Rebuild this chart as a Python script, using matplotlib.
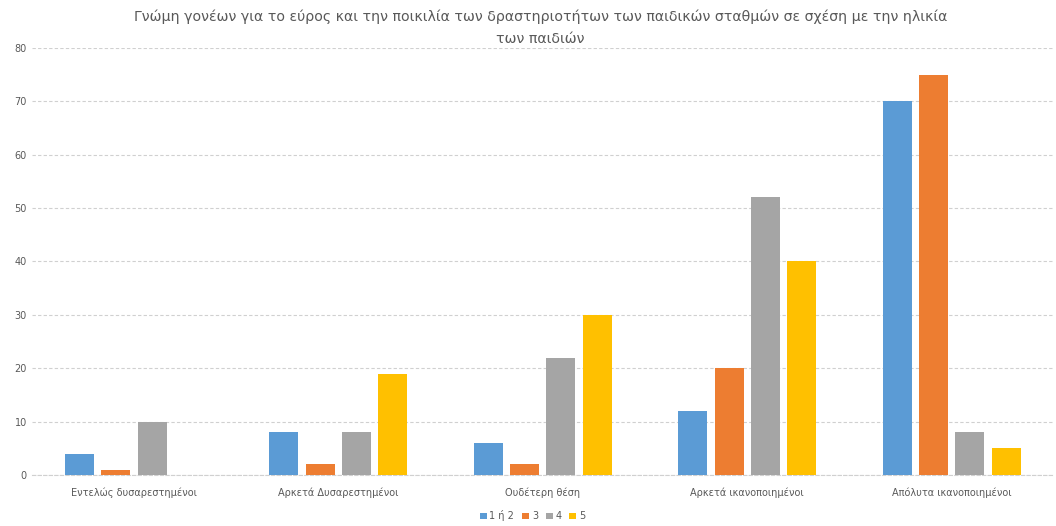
import matplotlib.pyplot as plt
import numpy as np

# data
categories = ['Εντελώς δυσαρεστημένοι', 'Αρκετά Δυσαρεστημένοι', 'Ουδέτερη θέση',
              'Αρκετά ικανοποιημένοι', 'Απόλυτα ικανοποιημένοι']
series_names = ['1 ή 2', '3', '4', '5']
age_1_2 = [4, 8, 6, 12, 70]
age_3 = [1, 2, 2, 20, 75]
age_4 = [10, 8, 22, 52, 8]
age_5 = [0, 19, 30, 40, 5]
yticks = np.arange(0, 81, 10)

series = [age_1_2, age_3, age_4, age_5]
colors = ['#5B9BD5', '#ED7D31', '#A5A5A5', '#FFC000']
title = ('Γνώμη γονέων για το εύρος και την ποικιλία των δραστηριοτήτων των παιδικών σταθμών σε σχέση με την ηλικία\n'
         'των παιδιών')

plt.rc('font', family='DejaVu Sans')

fig = plt.figure(figsize=(10.56, 5.26), dpi=100)
ax = fig.add_axes([0.030, 0.097, 0.968, 0.812])

x = np.arange(len(categories))
width = 0.142
step = 0.178
for i, (vals, col, name) in enumerate(zip(series, colors, series_names)):
    ax.bar(x + (i - 1.5) * step, vals, width, color=col, label=name, zorder=3)

ax.set_xlim(-0.5, len(categories) - 0.5)
ax.set_ylim(0, 80)
ax.set_yticks(yticks)
ax.set_xticks(x)
ax.set_xticklabels(categories)
ax.tick_params(axis='both', length=0, colors='#595959', labelsize=7)
ax.tick_params(axis='x', pad=9)
ax.grid(axis='y', color='#d0d0d0', linewidth=0.8, linestyle=(0, (3, 2)), zorder=0)
for s in ['top', 'right', 'left']:
    ax.spines[s].set_visible(False)
ax.spines['bottom'].set_color('#d0d0d0')
ax.spines['bottom'].set_linestyle((0, (3, 2)))

fig.text(0.512, 0.982, title, ha='center', va='top', fontsize=10.2,
         color='#595959', linespacing=1.75)

ax.legend(loc='center', bbox_to_anchor=(0.49, -0.096), ncol=4, frameon=False,
          fontsize=7, handlelength=0.7, handleheight=0.7, handletextpad=0.3,
          columnspacing=0.8, labelcolor='#595959', borderpad=0)

plt.savefig('out.png')
